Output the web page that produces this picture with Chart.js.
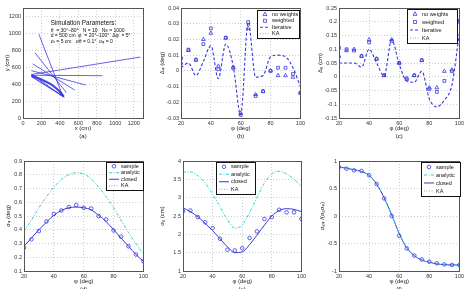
<!DOCTYPE html>
<html>
<head>
<meta charset="utf-8">
<script src="https://cdn.jsdelivr.net/npm/chart.js@4/dist/chart.umd.min.js"></script>
<style>
  body { margin: 0; background: #fff; width: 466px; height: 289px; overflow: hidden; position: relative; }
  canvas { position: absolute; }
</style>
</head>
<body>
<script>
// ---- data ----
var phi = [20, 25, 30, 35, 40, 45, 50, 55, 60, 65, 70, 75, 80, 85, 90, 95, 100];

// (a) geometry: ray start / end points (cm)
var rayX0 = [172, 130, 105, 90, 90, 95, 90, 90, 95];
var rayY0 = [990, 770, 640, 560, 505, 515, 500, 520, 485];
var rayX1 = [432, 470, 560, 680, 860, 1270, 440, 420, 450];
var rayY1 = [255, 300, 330, 390, 500, 720, 250, 265, 245];
var envX = [90, 200, 300, 380, 440];
var envY = [500, 455, 400, 330, 255];
var simText = [
  'Simulation Parameters:',
  'θ  = 30°–80°   N = 10   Ns = 1000',
  'd = 500 cm  φ  = 20°–100°  Δφ  = 5°',
  'σᵣ = 5 cm   σθ = 0.1°  σᵩ = 0'
];

// (b) error in phi (deg)
var bNoW  = [0.005, 0.013, 0.007, 0.020, 0.024, 0.003, 0.021, 0.002, -0.027, 0.027, -0.015, -0.013, 0.000, -0.003, -0.003, -0.004, -0.014];
var bW    = [0.008, 0.0135, 0.007, 0.017, 0.027, 0.001, 0.021, 0.002, -0.028, 0.031, -0.016, -0.013, 0.000, 0.002, 0.002, -0.002, -0.014];
var bIter = [0.002, 0.005, -0.003, 0.006, 0.016, -0.005, 0.017, 0.003, -0.028, 0.031, -0.004, -0.003, 0.009, 0.010, 0.009, 0.002, -0.010];

// (c) error in rho (cm)
var cNoW  = [0.075, 0.095, 0.100, 0.075, 0.135, 0.065, 0.005, 0.135, 0.050, -0.005, 0.005, 0.060, -0.040, -0.040, 0.020, 0.025, 0.205];
var cW    = [0.105, 0.100, 0.095, 0.075, 0.125, 0.065, 0.005, 0.130, 0.050, -0.010, 0.005, 0.060, -0.045, -0.055, -0.015, 0.020, 0.200];
var cIter = [0.050, 0.050, 0.050, 0.035, 0.100, 0.050, 0.003, 0.135, 0.045, -0.015, -0.020, 0.020, -0.080, -0.110, -0.085, -0.030, 0.160];

// (d) sigma phi (deg)
var dSample   = [0.27, 0.33, 0.39, 0.46, 0.515, 0.54, 0.565, 0.58, 0.56, 0.555, 0.50, 0.475, 0.395, 0.35, 0.28, 0.22, 0.17];
var dAnalytic = [0.39, 0.47, 0.56, 0.64, 0.71, 0.765, 0.80, 0.815, 0.805, 0.77, 0.71, 0.64, 0.56, 0.47, 0.38, 0.30, 0.22];
var dClosed   = [0.28, 0.34, 0.40, 0.455, 0.505, 0.54, 0.56, 0.565, 0.56, 0.545, 0.505, 0.46, 0.40, 0.34, 0.28, 0.22, 0.17];

// (e) sigma rho (cm)
var eSample   = [2.63, 2.65, 2.47, 2.33, 2.17, 1.88, 1.58, 1.56, 1.62, 1.90, 2.08, 2.42, 2.47, 2.67, 2.60, 2.60, 2.42];
var eAnalytic = [3.70, 3.70, 3.60, 3.40, 3.10, 2.75, 2.40, 2.17, 2.25, 2.60, 3.00, 3.40, 3.65, 3.72, 3.65, 3.50, 3.30];
var eClosed   = [2.72, 2.62, 2.48, 2.30, 2.10, 1.88, 1.66, 1.50, 1.52, 1.72, 1.98, 2.25, 2.50, 2.65, 2.70, 2.68, 2.62];

// (f) correlation coefficient
var fSample   = [0.89, 0.86, 0.83, 0.82, 0.74, 0.58, 0.32, 0.00, -0.36, -0.59, -0.72, -0.79, -0.83, -0.86, -0.88, -0.89, -0.89];
var fAnalytic = [0.89, 0.87, 0.84, 0.80, 0.74, 0.58, 0.34, 0.03, -0.31, -0.57, -0.72, -0.80, -0.84, -0.87, -0.88, -0.89, -0.89];
var fClosed   = [0.89, 0.87, 0.84, 0.81, 0.74, 0.58, 0.33, 0.02, -0.32, -0.58, -0.72, -0.80, -0.84, -0.87, -0.885, -0.89, -0.89];

// ---- style ----
var BLUE = 'rgb(55,55,222)';
var CYAN = 'rgb(50,205,205)';
var GRID = '#cdcdcd';
var FONT = '"Liberation Sans", Arial, sans-serif';

Chart.defaults.font.family = FONT;
Chart.defaults.font.size = 5.5;
Chart.defaults.color = '#222';
Chart.defaults.animation = false;
Chart.defaults.plugins.legend.display = false;
Chart.defaults.plugins.tooltip.enabled = false;

function pts(xs, ys) {
  return xs.map(function (x, i) { return { x: x, y: ys[i] }; });
}
function fmt(v) { return String(+v.toFixed(4)); }

function mark(ctx, style, x, y, r) {
  ctx.beginPath();
  if (style === 'triangle') {
    ctx.moveTo(x, y - r); ctx.lineTo(x + r * 0.9, y + r * 0.6); ctx.lineTo(x - r * 0.9, y + r * 0.6); ctx.closePath();
  } else if (style === 'rect') {
    ctx.rect(x - r * 0.75, y - r * 0.75, r * 1.5, r * 1.5);
  } else {
    ctx.arc(x, y, r, 0, Math.PI * 2);
  }
  ctx.stroke();
}

// axes box like matlab "box on"
var frame = {
  id: 'frame',
  afterDatasetsDraw: function (chart) {
    var a = chart.chartArea, ctx = chart.ctx;
    ctx.save();
    ctx.strokeStyle = '#555';
    ctx.lineWidth = 1;
    ctx.strokeRect(Math.round(a.left) + 0.5, Math.round(a.top) + 0.5, Math.round(a.right - a.left), Math.round(a.bottom - a.top));
    ctx.restore();
  }
};

// boxed legend drawn inside the plot area
var boxLegend = {
  id: 'boxLegend',
  afterDraw: function (chart, args, o) {
    if (!o.rect) return;
    var ctx = chart.ctx, a = chart.chartArea;
    var x = Math.round(a.left + o.rect[0]), y = Math.round(a.top + o.rect[1]), w = o.rect[2], h = o.rect[3];
    ctx.save();
    ctx.fillStyle = '#fff';
    ctx.fillRect(x, y, w, h);
    ctx.strokeStyle = '#111';
    ctx.lineWidth = 1;
    ctx.strokeRect(x + 0.5, y + 0.5, w, h);
    var ds = chart.data.datasets, rowH = (h - 2) / ds.length;
    ds.forEach(function (d, i) {
      var cy = y + 1 + rowH * (i + 0.5);
      ctx.strokeStyle = d.borderColor;
      ctx.lineWidth = d.borderWidth || 1;
      if (d.showLine) {
        ctx.setLineDash(d.borderDash || []);
        ctx.beginPath(); ctx.moveTo(x + 3, cy); ctx.lineTo(x + 13, cy); ctx.stroke();
        ctx.setLineDash([]);
      }
      if (d.pointRadius > 0) {
        ctx.lineWidth = 0.8;
        mark(ctx, d.pointStyle, x + 8, cy, d.pointRadius);
      }
      ctx.fillStyle = '#111';
      ctx.font = '5.5px ' + FONT;
      ctx.textBaseline = 'middle';
      ctx.fillText(d.label, x + 15, cy);
    });
    ctx.restore();
  }
};

// free text block in data coordinates
var noteText = {
  id: 'noteText',
  afterDraw: function (chart, args, o) {
    if (!o.lines) return;
    var ctx = chart.ctx;
    var x = chart.scales.x.getPixelForValue(o.at[0]);
    var y = chart.scales.y.getPixelForValue(o.at[1]);
    ctx.save();
    ctx.fillStyle = '#111';
    ctx.textBaseline = 'middle';
    o.lines.forEach(function (t, i) {
      ctx.font = (i === 0 ? '6.3px ' : '5px ') + FONT;
      ctx.fillText(t, x, y + (i === 0 ? 0 : o.gap + (i - 1) * o.step));
    });
    ctx.restore();
  }
};

var ML = 36, MT = 6, MR = 6, MB = 26;

function panel(L, T, R, B, cfg) {
  var c = document.createElement('canvas');
  c.width = R - L + ML + MR;
  c.height = B - T + MT + MB;
  c.style.left = (L - ML) + 'px';
  c.style.top = (T - MT) + 'px';
  document.body.appendChild(c);
  var ytPad = ML - cfg.ytDist - 3.6;
  new Chart(c, {
    type: 'scatter',
    data: { datasets: cfg.datasets },
    options: {
      responsive: false,
      layout: { padding: { left: 0, top: MT, right: MR, bottom: 0 } },
      scales: {
        x: {
          type: 'linear', min: cfg.x[0], max: cfg.x[1],
          ticks: { stepSize: cfg.x[2], includeBounds: false, padding: 2, maxRotation: 0, color: '#333', callback: fmt },
          grid: { color: GRID, drawTicks: false },
          border: { display: false, dash: [1, 2] },
          title: { display: true, text: cfg.xTitle, color: '#222', padding: { top: 0, bottom: 4 }, font: { size: 6, lineHeight: 1.33 } },
          afterFit: function (s) { s.height = MB; }
        },
        y: {
          type: 'linear', min: cfg.y[0], max: cfg.y[1],
          ticks: { stepSize: cfg.y[2], includeBounds: false, padding: 2, color: '#333', callback: fmt },
          grid: { color: GRID, drawTicks: false },
          border: { display: false, dash: [1, 2] },
          title: { display: true, text: cfg.yTitle, color: '#222', padding: { top: ytPad, bottom: 0 }, font: { size: 6, lineHeight: 1.2 } },
          afterFit: function (s) { s.width = ML; }
        }
      },
      plugins: {
        boxLegend: { rect: cfg.legend },
        noteText: cfg.note || {}
      }
    },
    plugins: [frame, boxLegend, noteText]
  });
}

function markers(label, ys, style, r) {
  return { label: label, data: pts(phi, ys), showLine: false, pointStyle: style, pointRadius: r,
           borderColor: BLUE, backgroundColor: 'rgba(0,0,0,0)', pointBorderWidth: 0.8 };
}
function curve(label, ys, color, dash, width, tension) {
  return { label: label, data: pts(phi, ys), showLine: true, pointRadius: 0, borderColor: color,
           borderWidth: width, borderDash: dash, tension: tension || 0, cubicInterpolationMode: 'monotone' };
}

// (a)
var aSets = rayX0.map(function (x0, i) {
  return { label: 'ray' + i, data: [{ x: x0, y: rayY0[i] }, { x: rayX1[i], y: rayY1[i] }], showLine: true,
           pointRadius: 0, borderColor: 'rgba(50,50,220,0.85)', borderWidth: 0.9 };
});
aSets.push({ label: 'env', data: pts(envX, envY), showLine: true, pointRadius: 0, borderColor: 'rgba(50,50,220,0.9)', borderWidth: 2.2, tension: 0.4 });
panel(23, 8, 143, 118, {
  x: [0, 1300, 200], y: [0, 1300, 200], xTitle: ['x (cm)', '(a)'], yTitle: 'y (cm)', ytDist: 16,
  datasets: aSets,
  note: { lines: simText, at: [300, 1120], gap: 7, step: 5.6 }
});

// (b)
panel(181, 8, 301, 118, {
  x: [20, 100, 20], y: [-0.03, 0.04, 0.01], xTitle: ['φ (deg)', '(b)'], yTitle: 'Δᵩ (deg)', ytDist: 19,
  legend: [76, 2, 42, 28],
  datasets: [
    markers('no weights', bNoW, 'triangle', 2.2),
    markers('weighted', bW, 'rect', 2),
    curve('Iterative', bIter, BLUE, [3, 2], 1.1),
    curve('KA', [], '#888', [1, 1.5], 0.8)
  ]
});

// (c)
panel(339, 8, 460, 118, {
  x: [20, 100, 20], y: [-0.15, 0.25, 0.05], xTitle: ['φ (deg)', '(c)'], yTitle: 'Δᵨ (cm)', ytDist: 19,
  legend: [68, 1, 50, 34],
  datasets: [
    markers('no weights', cNoW, 'triangle', 2.2),
    markers('weighted', cW, 'rect', 2),
    curve('Iterative', cIter, BLUE, [3, 2], 1.1),
    curve('KA', [], '#888', [1, 1.5], 0.8)
  ]
});

// (d)
panel(24, 161, 144, 271, {
  x: [20, 100, 20], y: [0.1, 0.9, 0.1], xTitle: ['φ (deg)', '(d)'], yTitle: 'σᵩ (deg)', ytDist: 16,
  legend: [82, 1, 37, 28],
  datasets: [
    markers('sample', dSample, 'circle', 1.8),
    curve('analytic', dAnalytic, CYAN, [3, 1.5, 1, 1.5], 1, 0.4),
    curve('closed', dClosed, BLUE, [], 1, 0.4),
    curve('KA', [], '#888', [1, 1.5], 0.8)
  ]
});

// (e)
panel(183, 161, 302, 271, {
  x: [20, 100, 20], y: [1, 4, 0.5], xTitle: ['φ (deg)', '(e)'], yTitle: 'σᵨ (cm)', ytDist: 21,
  legend: [33, 1, 39, 32],
  datasets: [
    markers('sample', eSample, 'circle', 1.8),
    curve('analytic', eAnalytic, CYAN, [3, 1.5, 1, 1.5], 1, 0.4),
    curve('closed', eClosed, BLUE, [], 1, 0.4),
    curve('KA', [], '#888', [1, 1.5], 0.8)
  ]
});

// (f)
panel(339, 161, 460, 271, {
  x: [20, 100, 20], y: [-1, 1, 0.5], xTitle: ['φ (deg)', '(f)'], yTitle: 'σᵨᵩ /(σᵨσᵩ)', ytDist: 17,
  legend: [82, 1, 39, 34],
  datasets: [
    markers('sample', fSample, 'circle', 1.8),
    curve('analytic', fAnalytic, CYAN, [3, 1.5, 1, 1.5], 1, 0.4),
    curve('closed', fClosed, BLUE, [], 1, 0.4),
    curve('KA', [], '#888', [1, 1.5], 0.8)
  ]
});
</script>
</body>
</html>
